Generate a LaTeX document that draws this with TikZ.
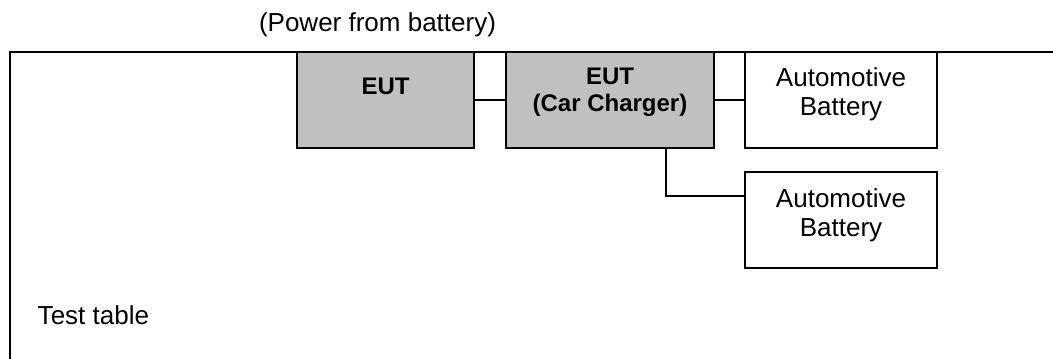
\documentclass[tikz,border=0pt]{standalone}
\usepackage{fontspec}
\setmainfont{Liberation Sans}
\usetikzlibrary{positioning, calc}
\definecolor{eutgrey}{HTML}{C0C0C0}

\begin{document}
\begin{tikzpicture}[x=0.75pt, y=-0.75pt, line width=1.1pt,
  box/.style={draw=black, fill=white, minimum width=144pt, minimum height=72pt, inner sep=0pt},
  eutbox/.style={box, fill=eutgrey},
  txt/.style={inner sep=0pt, align=center, font=\fontsize{19.5}{21.75}\selectfont},
  btxt/.style={txt, font=\fontsize{18}{20.25}\selectfont\bfseries},
  link/.style={draw=black, line width=1.1pt}]
  \useasboundingbox (0,0) rectangle (1053,359);
  % test table
  \draw (10,359) -- (10,52) -- (1053,52);
  \node[txt, anchor=base west] (table) at (37,325) {Test table};
  \node[txt, anchor=base] (power) at (377.5,32) {(Power from battery)};
  % boxes
  \node[eutbox, minimum width=132.75pt] (eut) at (385.5,100) {};
  \node[eutbox, minimum width=156pt] (chg) at (610,100) {};
  \node[box] (bat1) at (841,100) {};
  \node[box] (bat2) at (841,220) {};
  % box texts (base = last line)
  \node[btxt, anchor=base] (eutlbl) at ($(eut.north)+(0,43)$) {EUT};
  \node[btxt, anchor=base] (chglbl) at ($(chg.north)+(0,60)$) {EUT\\(Car Charger)};
  \node[txt, anchor=base] (bat1lbl) at ($(bat1.north)+(0,64)$) {Automotive\\Battery};
  \node[txt, anchor=base] (bat2lbl) at ($(bat2.north)+(0,65)$) {Automotive\\Battery};
  % cables
  \coordinate (tap) at (666,196);
  \draw[link] (eut) -- (chg);
  \draw[link] (chg) -- (bat1);
  \draw[link] (tap |- chg.south) |- (bat2.west |- tap);
\end{tikzpicture}
\end{document}
